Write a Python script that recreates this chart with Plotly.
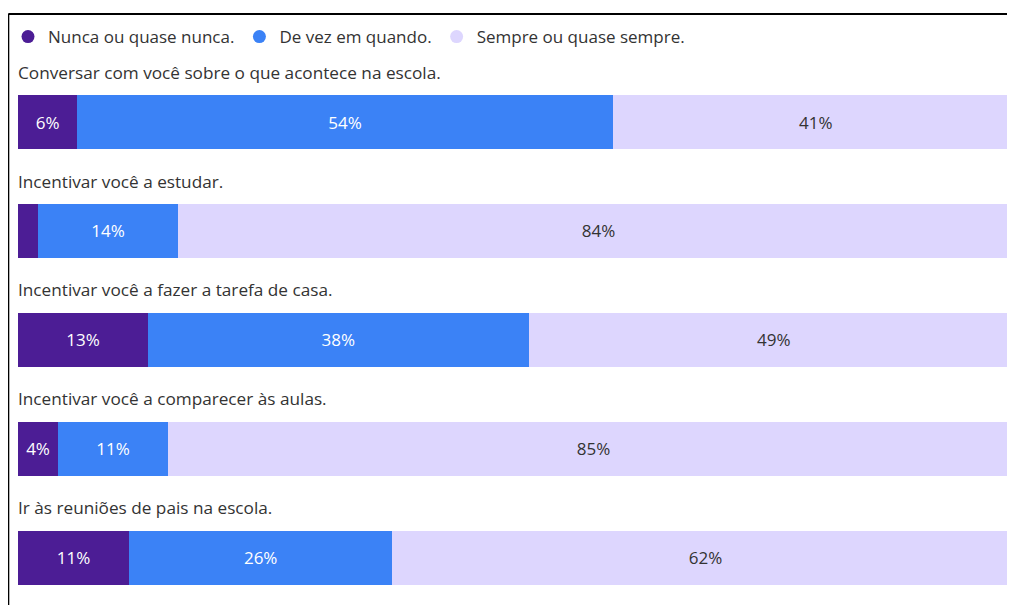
import plotly.graph_objects as go

categories = [
    "Conversar com você sobre o que acontece na escola.",
    "Incentivar você a estudar.",
    "Incentivar você a fazer a tarefa de casa.",
    "Incentivar você a comparecer às aulas.",
    "Ir às reuniões de pais na escola.",
]
series_names = ["Nunca ou quase nunca.", "De vez em quando.", "Sempre ou quase sempre."]
nunca = [6, 2, 13, 4, 11]
de_vez = [54, 14, 38, 11, 26]
sempre = [41, 84, 49, 85, 62]
nunca_labels = ["6%", "", "13%", "4%", "11%"]
de_vez_labels = ["54%", "14%", "38%", "11%", "26%"]
sempre_labels = ["41%", "84%", "49%", "85%", "62%"]

colors = ["#4C1D95", "#3B82F6", "#DDD6FE"]
text_colors = ["#FFFFFF", "#FFFFFF", "#333333"]
FONT = "Open Sans, Lato, sans-serif"

fig = go.Figure()
for name, vals, labels, col, tcol in zip(
    series_names,
    [nunca, de_vez, sempre],
    [nunca_labels, de_vez_labels, sempre_labels],
    colors,
    text_colors,
):
    fig.add_trace(go.Bar(
        y=categories, x=vals, orientation="h", name=name,
        marker=dict(color=col, line=dict(width=0)),
        text=labels, texttemplate="%{text}", textposition="inside",
        insidetextanchor="middle", textangle=0,
        textfont=dict(color=tcol, size=17, family=FONT),
        showlegend=False, hoverinfo="skip",
    ))
    fig.add_trace(go.Scatter(
        x=[None], y=[None], mode="markers", name=name,
        marker=dict(color=col, size=13, symbol="circle"),
        showlegend=True,
    ))

for cat in categories:
    fig.add_annotation(
        x=0, xref="paper", xanchor="left", xshift=-2, y=cat, yref="y", yanchor="middle",
        yshift=50, text=cat, showarrow=False,
        font=dict(size=17.2, color="#333333", family=FONT),
    )

# frame lines (left and top)
fx = (0.3 - 10) / 1001
fig.add_shape(type="line", xref="paper", yref="paper", x0=fx, x1=fx,
              y0=-0.1, y1=1.0, line=dict(color="#000000", width=2))
fig.add_shape(type="line", xref="paper", yref="paper", x0=fx, x1=1.1,
              y0=1.0, y1=1.0, line=dict(color="#000000", width=2))

fig.update_layout(
    width=1015, height=605,
    margin=dict(l=10, r=4, t=6, b=0, autoexpand=False),
    barmode="stack", barnorm="percent", bargap=0.505,
    barcornerradius=6,
    plot_bgcolor="white", paper_bgcolor="white",
    font=dict(family=FONT, color="#333333"),
    xaxis=dict(range=[0, 100], visible=False, fixedrange=True),
    yaxis=dict(range=[4.505, -0.991], visible=False, type="category"),
    legend=dict(orientation="h", traceorder="normal",
                xref="container", yref="container",
                x=0, xanchor="left", y=1 - 29 / 605, yanchor="middle",
                font=dict(size=17, color="#333333", family=FONT),
                bgcolor="rgba(0,0,0,0)", itemwidth=30),
    uniformtext=dict(minsize=10, mode="show"),
)

fig.write_html("out.html")
